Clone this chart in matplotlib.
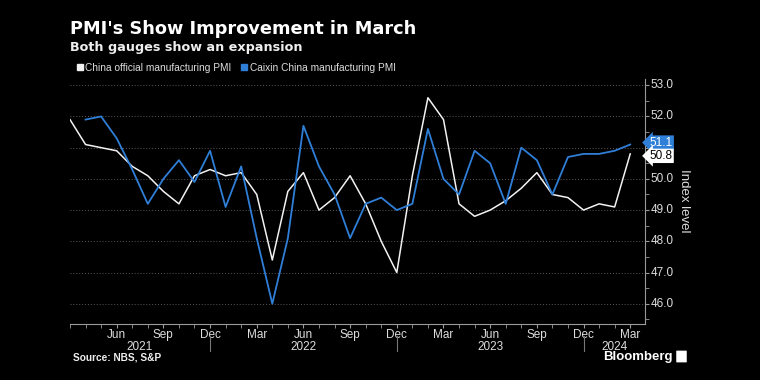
import matplotlib.pyplot as plt
from matplotlib.lines import Line2D
from matplotlib.ticker import MultipleLocator, FixedLocator
from matplotlib.patches import FancyBboxPatch

# monthly readings, Mar 2021 .. Mar 2024
months = ["Mar", "Apr", "May", "Jun", "Jul", "Aug", "Sep", "Oct", "Nov", "Dec", "Jan", "Feb"]
official = [51.9, 51.1, 51.0, 50.9, 50.4, 50.1, 49.6, 49.2, 50.1, 50.3, 50.1, 50.2,
            49.5, 47.4, 49.6, 50.2, 49.0, 49.4, 50.1, 49.2, 48.0, 47.0, 50.1, 52.6,
            51.9, 49.2, 48.8, 49.0, 49.3, 49.7, 50.2, 49.5, 49.4, 49.0, 49.2, 49.1,
            50.8]
# Caixin series starts one month later (Apr 2021)
caixin = [51.9, 52.0, 51.3, 50.3, 49.2, 50.0, 50.6, 49.9, 50.9, 49.1, 50.4,
          48.1, 46.0, 48.1, 51.7, 50.4, 49.5, 48.1, 49.2, 49.4, 49.0, 49.2, 51.6,
          50.0, 49.5, 50.9, 50.5, 49.2, 51.0, 50.6, 49.5, 50.7, 50.8, 50.8, 50.9,
          51.1]
years = ["2021", "2022", "2023", "2024"]

WHITE = "#f2f2f2"
BLUE = "#2f7fd8"
SMALL = ["Liberation Sans", "DejaVu Sans"]
Y0, Y1 = 45.35, 53.2

fig = plt.figure(figsize=(7.6, 3.8), dpi=100, facecolor="black")
ax = fig.add_axes([70 / 760, 1 - 324 / 380, 575 / 760, 245 / 380])
ax.set_facecolor("black")

x_off = list(range(len(official)))
x_cx = list(range(1, len(caixin) + 1))
ax.plot(x_off, official, color=WHITE, lw=1.1, zorder=3)
ax.plot(x_cx, caixin, color=BLUE, lw=1.3, zorder=3)

ax.set_xlim(0, 36.95)
ax.set_ylim(Y0, Y1)

# axes styling
for s in ["top", "left"]:
    ax.spines[s].set_visible(False)
ax.spines["right"].set_color("#9a9a9a")
ax.spines["bottom"].set_color("#9a9a9a")
ax.yaxis.tick_right()
ax.yaxis.set_major_locator(MultipleLocator(1))
ax.yaxis.set_minor_locator(MultipleLocator(0.5))
ax.set_yticklabels([])
ax.grid(axis="y", color="#5a5a5a", ls=(0, (1, 2)), lw=0.7)
ax.tick_params(axis="y", which="both", colors="#9a9a9a", length=3, direction="out")

# 51.0 is hidden behind the last-value tags in the original
for v in [46, 47, 48, 49, 50, 52, 53]:
    ax.text(1.01, (v - Y0) / (Y1 - Y0), f"{v:.1f}", transform=ax.transAxes,
            color="#dddddd", fontsize=8.5, family=SMALL, va="center", ha="left")

ax.xaxis.set_minor_locator(MultipleLocator(1))
ax.xaxis.set_major_locator(FixedLocator(range(3, 37, 3)))
ax.set_xticklabels([months[i % 12] for i in range(3, 37, 3)], family=SMALL)
ax.tick_params(axis="x", which="both", colors="#9a9a9a", length=3, direction="out")
ax.tick_params(axis="x", which="major", labelcolor="#dddddd", labelsize=8.5, pad=0.5)

# year labels and separators at December
trans = ax.get_xaxis_transform()
for xs in [9, 21, 33]:
    ax.plot([xs, xs], [-0.049, -0.11], transform=trans, color="#777777",
            lw=0.8, clip_on=False)
for xc, yr in zip([4.5, 15, 27, 35], years):
    ax.text(xc, -0.092, yr, transform=trans, color="#dddddd", fontsize=8.5,
            family=SMALL, ha="center", va="center")

# last value tags
ax.text(1.008, (caixin[-1] - Y0) / (Y1 - Y0) + 0.008, f"{caixin[-1]:.1f}",
        transform=ax.transAxes, color="white", fontsize=8.5, family=SMALL, va="center",
        ha="left", zorder=6, bbox=dict(boxstyle="larrow,pad=0.1", fc=BLUE, ec="none"))
ax.text(1.008, (official[-1] - Y0) / (Y1 - Y0) - 0.008, f"{official[-1]:.1f}",
        transform=ax.transAxes, color="black", fontsize=8.5, family=SMALL, va="center",
        ha="left", zorder=7, bbox=dict(boxstyle="larrow,pad=0.1", fc="white", ec="none"))

fig.text(684 / 760, 1 - 201 / 380, "Index level", rotation=270, color="#dddddd",
         fontsize=9.5, family=SMALL, ha="center", va="center")

# titles
fig.text(70 / 760, 1 - 29 / 380, "PMI's Show Improvement in March", color="white",
         fontsize=12.8, fontweight="bold", va="center", ha="left")
fig.text(70 / 760, 1 - 47 / 380, "Both gauges show an expansion", color="#eeeeee",
         fontsize=9.2, fontweight="bold", va="center", ha="left")

handles = [Line2D([], [], ls="none", marker="s", ms=4.5, color=WHITE),
           Line2D([], [], ls="none", marker="s", ms=4.5, color=BLUE)]
fig.legend(handles, ["China official manufacturing PMI", "Caixin China manufacturing PMI"],
           loc="center left", bbox_to_anchor=(68 / 760, 1 - 68 / 380), ncol=2,
           frameon=False, handlelength=0.5, handletextpad=0.3, columnspacing=1.0,
           prop={"family": SMALL, "size": 7.3}, labelcolor="#dddddd")

fig.text(73 / 760, 1 - 358 / 380, "Source: NBS, S&P", color="#eeeeee", fontsize=7.3,
         family=SMALL, fontweight="bold", va="center", ha="left")
fig.text(673 / 760, 1 - 357 / 380, "Bloomberg", color="white", fontsize=9.5,
         family=SMALL, fontweight="bold", va="center", ha="right")
fig.patches.append(FancyBboxPatch((677 / 760, 1 - 362 / 380), 9 / 760, 11 / 380,
                                  boxstyle="round,pad=0.001", fc="white", ec="none",
                                  transform=fig.transFigure, figure=fig))

fig.savefig("out.png", dpi=100, facecolor="black")
